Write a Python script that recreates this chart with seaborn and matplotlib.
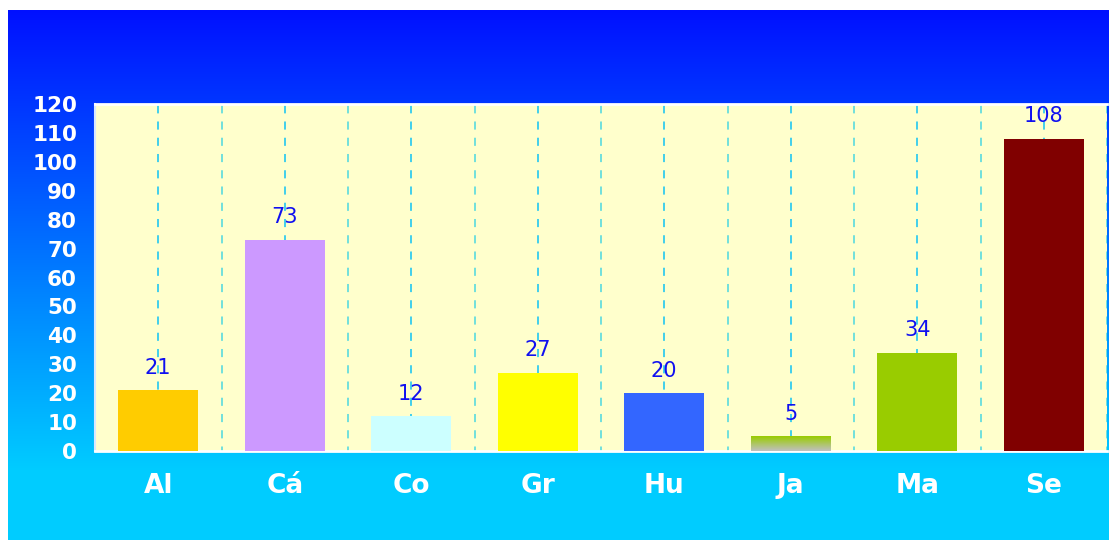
import numpy as np
import matplotlib
matplotlib.use('Agg')
import matplotlib.pyplot as plt
from matplotlib.colors import to_rgb
import seaborn as sns

# dados
categorias = ['Al', 'Cá', 'Co', 'Gr', 'Hu', 'Ja', 'Ma', 'Se']
valores = [21, 73, 12, 27, 20, 5, 34, 108]
cores = ['#ffcc00', '#cc99ff', '#ccffff', '#ffff00', '#3366ff', '#99cc00', '#99cc00', '#800000']
yticks = list(range(0, 121, 10))

sns.set_style('white')
plt.rcParams['font.family'] = ['DejaVu Sans']

W, H = 1109, 540
fig = plt.figure(figsize=(W / 100, H / 100), dpi=100)
fig.patch.set_facecolor('white')

# fundo em degradê (azul -> ciano)
bg = fig.add_axes([8 / W, 0, 1 - 8 / W, 530 / H], zorder=-1)
n = 530
topo = np.array(to_rgb('#0010ff'))
base = np.array(to_rgb('#00ccff'))
t = np.clip(np.arange(n) / 460, 0, 1)[:, None]
grad = topo * (1 - t) + base * t
bg.imshow(grad[:, None, :], aspect='auto', extent=[0, 1, 0, 1], origin='upper')
bg.set_axis_off()

# área do gráfico
ax = fig.add_axes([95 / W, (H - 451) / H, (1107 - 95) / W, (451 - 104) / H])
ax.set_facecolor('#ffffcc')
sns.barplot(x=categorias, y=valores, hue=categorias, palette=cores, legend=False,
            width=0.63, saturation=1, linewidth=0, ax=ax, zorder=3)

# barra "Ja" com degradê verde -> cinza
p = ax.patches[5]
x0, w, h = p.get_x(), p.get_width(), p.get_height()
g = np.linspace(0, 1, 50)[:, None]
jg = np.array(to_rgb('#99cc00')) * (1 - g) + np.array(to_rgb('#c0c0c0')) * g
ax.imshow(jg[:, None, :], aspect='auto', extent=[x0, x0 + w, 0, h], origin='upper', zorder=4)

ax.set_xlim(-0.5, len(categorias) - 0.5)
ax.set_ylim(0, 120)
ax.set_yticks(yticks)
ax.set_xlabel('')
ax.set_ylabel('')

# rótulos de valor
for i, v in enumerate(valores):
    ax.annotate(str(v), (i, v), xytext=(0, 9), textcoords='offset points',
                ha='center', va='bottom', fontsize=15, color='#1010f0', zorder=6)

# grades verticais
ax.set_xticks(np.arange(-0.5, len(categorias), 1), minor=True)
ax.grid(axis='x', which='major', linestyle=(2, (4.5, 4.5)), color='#33ccee', linewidth=1.3, zorder=0)
ax.grid(axis='x', which='minor', linestyle=(2, (4.5, 4.5)), color='#66dddd', linewidth=1.3, zorder=0)
ax.grid(axis='y', visible=False)
ax.set_axisbelow(True)

ax.tick_params(axis='x', which='major', length=0, pad=16, labelsize=19, labelcolor='white')
ax.tick_params(axis='x', which='minor', length=8, color='#e0f6ff', width=1.2, direction='out')
ax.tick_params(axis='y', length=7, color='#a8d0ff', width=1.2, pad=6, labelsize=15.5, labelcolor='white')
for lb in ax.get_xticklabels() + ax.get_yticklabels():
    lb.set_fontweight('bold')

for s in ['top', 'bottom']:
    ax.spines[s].set_color('white')
    ax.spines[s].set_linewidth(2)
ax.spines['left'].set_color('#d8e8ff')
ax.spines['left'].set_linewidth(1.5)
ax.spines['right'].set_visible(False)

fig.savefig('out.png', dpi=100)
